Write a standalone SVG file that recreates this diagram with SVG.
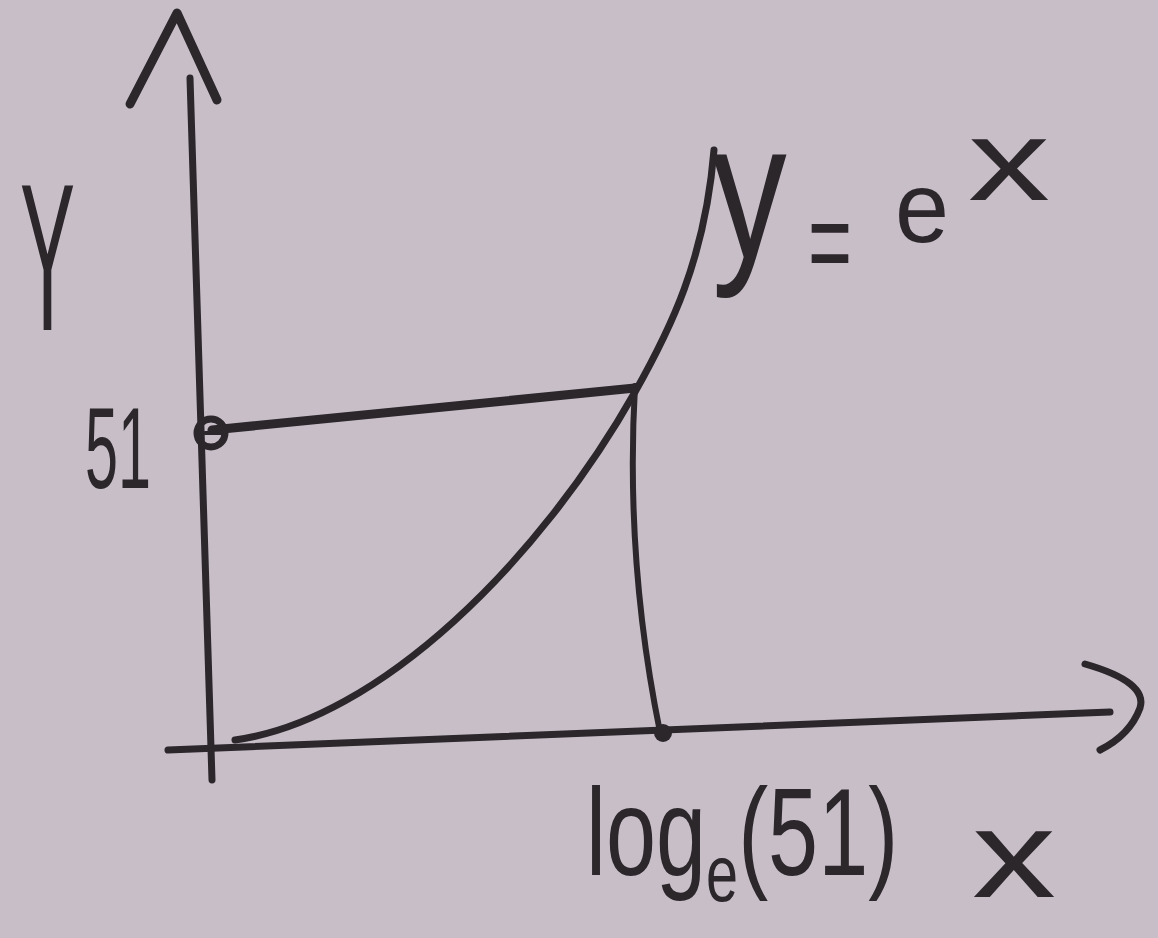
<svg xmlns="http://www.w3.org/2000/svg" width="1158" height="938" viewBox="0 0 1158 938">
<style>
.ink{fill:none;stroke:#2b272b;stroke-linecap:round;stroke-linejoin:round}
.t{fill:#2b272b;font-family:"Liberation Sans","DejaVu Sans",sans-serif}
</style>
<rect width="1158" height="938" fill="#c8bec8"/>
<g id="connectors">
  <g id="y-axis">
    <path class="ink" stroke-width="7" d="M190,78 L212,780"/>
    <path class="ink" stroke-width="9" d="M130,104 L177,13 L217,100"/>
  </g>
  <g id="x-axis">
    <path class="ink" stroke-width="7" d="M168,750 L1110,712"/>
    <path class="ink" stroke-width="7" d="M1085,664 Q1148,682 1140,708 Q1130,735 1100,750"/>
  </g>
  <g id="curve">
    <path class="ink" stroke-width="7" d="M235,740 C380,720 540,560 635,392 C670,330 705,260 714,150"/>
  </g>
  <g id="guide-h">
    <path class="ink" stroke-width="9" d="M212,430 L635,388"/>
  </g>
  <g id="guide-v">
    <path class="ink" stroke-width="6" d="M635,386 Q625,560 660,732"/>
  </g>
</g>
<g id="point-51">
  <circle cx="211" cy="433" r="14" fill="none" stroke="#2b272b" stroke-width="7"/>
  <path class="ink" stroke-width="4" d="M205,433 L224,433"/>
</g>
<g id="point-log">
  <circle cx="663" cy="733" r="9" fill="#2b272b"/>
</g>
<g id="label-Y">
  <text class="t" x="20" y="330" font-size="210" textLength="55" lengthAdjust="spacingAndGlyphs">Y</text>
</g>
<g id="label-51">
  <text class="t" x="85" y="488" font-size="115" textLength="66" lengthAdjust="spacingAndGlyphs">51</text>
</g>
<g id="label-eq">
  <text class="t" transform="translate(712,258) scale(1.15,1.5)" font-size="130">y</text>
  <text class="t" x="808" y="283" font-size="120" textLength="44" lengthAdjust="spacingAndGlyphs">=</text>
  <text class="t" x="895" y="242" font-size="100" textLength="54" lengthAdjust="spacingAndGlyphs">e</text>
  <text class="t" x="968" y="200" font-size="115" textLength="82" lengthAdjust="spacingAndGlyphs">x</text>
</g>
<g id="label-log">
  <text class="t" transform="translate(586,875) scale(0.72,1)" font-size="125">log<tspan dy="26" font-size="80">e</tspan><tspan dy="-26">(51)</tspan></text>
</g>
<g id="label-x">
  <text class="t" x="972" y="897" font-size="125" textLength="84" lengthAdjust="spacingAndGlyphs">x</text>
</g>
</svg>
